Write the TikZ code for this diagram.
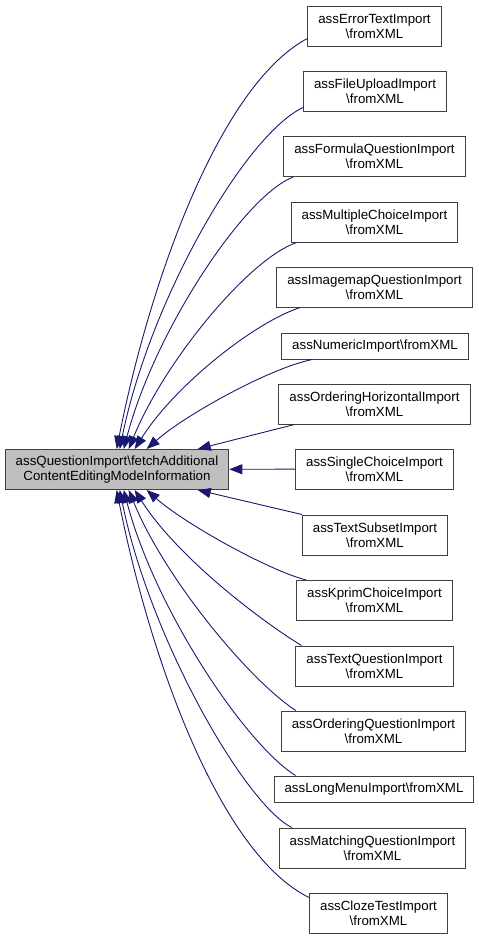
\documentclass[tikz,border=0pt]{standalone}
\usepackage{fontspec}
\setmainfont{Liberation Sans}
\usepackage{tikz}
\usetikzlibrary{arrows.meta}

\definecolor{edgeblue}{HTML}{191970}
\definecolor{boxgray}{HTML}{BFBFBF}
\definecolor{boxline}{HTML}{404040}

\begin{document}
\begin{tikzpicture}[x=1pt, y=-1pt,
    every node/.style={font=\fontsize{13.3}{15}\selectfont, align=center},
    fn/.style={draw=boxline, line width=1pt, fill=white, inner xsep=10.5pt, inner ysep=2pt, minimum height=40pt},
    fnone/.style={fn, minimum height=26pt},
    root/.style={fn, fill=boxgray},
    edge/.style={draw=edgeblue, line width=0.9pt, -{Triangle[length=13pt, width=10pt]}}]
        \useasboundingbox (0,0) rectangle (479,940);

        % Callee
        \node[root] (src) at (117,469.5) {assQuestionImport\textbackslash fetchAdditional\\ContentEditingModeInformation};

        % Callers
        \node[fn] (err) at (374.5,26) {assErrorTextImport\\\textbackslash fromXML};
        \node[fn] (file) at (375,91) {assFileUploadImport\\\textbackslash fromXML};
        \node[fn] (formula) at (374.5,156.5) {assFormulaQuestionImport\\\textbackslash fromXML};
        \node[fn] (multi) at (374.5,222) {assMultipleChoiceImport\\\textbackslash fromXML};
        \node[fn] (image) at (374.5,287) {assImagemapQuestionImport\\\textbackslash fromXML};
        \node[fnone] (numeric) at (375,346) {assNumericImport\textbackslash fromXML};
        \node[fn] (ordh) at (374.5,404) {assOrderingHorizontalImport\\\textbackslash fromXML};
        \node[fn] (single) at (374.5,469) {assSingleChoiceImport\\\textbackslash fromXML};
        \node[fn] (subset) at (375,535) {assTextSubsetImport\\\textbackslash fromXML};
        \node[fn] (kprim) at (374.5,600.5) {assKprimChoiceImport\\\textbackslash fromXML};
        \node[fn] (textq) at (374.5,666) {assTextQuestionImport\\\textbackslash fromXML};
        \node[fn] (ordq) at (373.5,731) {assOrderingQuestionImport\\\textbackslash fromXML};
        \node[fnone] (longmenu) at (374,789) {assLongMenuImport\textbackslash fromXML};
        \node[fn] (matching) at (372.5,848) {assMatchingQuestionImport\\\textbackslash fromXML};
        \node[fn] (cloze) at (378.5,913) {assClozeTestImport\\\textbackslash fromXML};

        % Calls from above
        \draw[edge] ([yshift=8pt]err.south west) .. controls (220,85) and (150,280) .. ([xshift=112pt]src.north west);
        \draw[edge] ([yshift=4pt]file.south west) .. controls (245,135) and (150,300) .. ([xshift=115pt]src.north west);
        \draw[edge] ([xshift=10pt]formula.south west) .. controls (245,195) and (155,330) .. ([xshift=119pt]src.north west);
        \draw[edge] ([xshift=6pt]multi.south west) .. controls (250,258) and (165,360) .. ([xshift=124pt]src.north west);
        \draw[edge] ([xshift=24pt]image.south west) .. controls (255,322) and (175,385) .. ([xshift=130pt]src.north west);
        \draw[edge] ([xshift=31pt]numeric.south west) .. controls (270,368) and (185,415) .. ([xshift=142pt]src.north west);
        \draw[edge] ([xshift=16pt]ordh.south west) -- ([xshift=193pt]src.north west);

        % Straight across
        \draw[edge] (single) -- (src);

        % Calls from below
        \draw[edge] (subset.north west) -- ([xshift=193pt]src.south west);
        \draw[edge] ([xshift=10pt]kprim.north west) .. controls (270,571) and (185,524) .. ([xshift=142pt]src.south west);
        \draw[edge] ([xshift=6pt]textq.north west) .. controls (255,617) and (175,554) .. ([xshift=130pt]src.south west);
        \draw[edge] ([xshift=15pt]ordq.north west) .. controls (250,681) and (165,579) .. ([xshift=124pt]src.south west);
        \draw[edge] ([xshift=22pt]longmenu.north west) .. controls (245,744) and (155,609) .. ([xshift=119pt]src.south west);
        \draw[edge] ([xshift=13pt]matching.north west) .. controls (245,804) and (150,639) .. ([xshift=115pt]src.south west);
        \draw[edge] ([yshift=-5pt]cloze.north west) .. controls (220,854) and (150,659) .. ([xshift=112pt]src.south west);
    \end{tikzpicture}
\end{document}
